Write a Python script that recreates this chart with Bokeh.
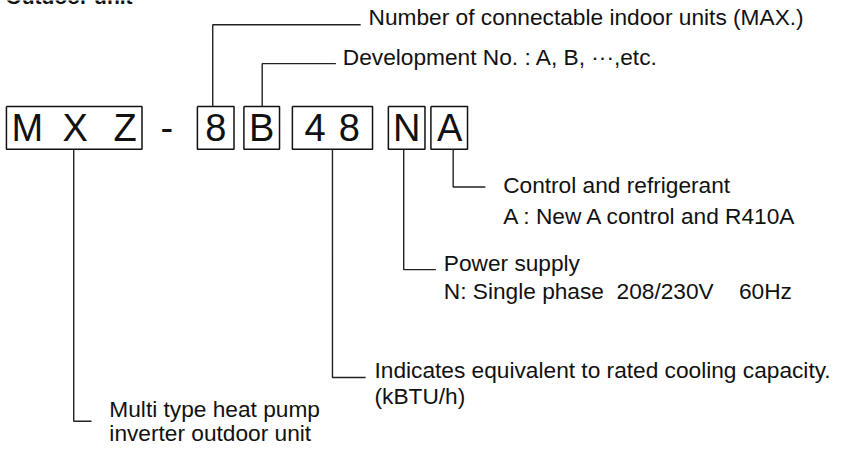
from bokeh.plotting import figure
from bokeh.models import Range1d
from bokeh.core.properties import value
from bokeh.embed import file_html
from bokeh.resources import INLINE

NB = "\u00a0"  # keeps the wide gaps of the original text

# ---- content ----
title_text = "Outdoor unit"
code_chars = ["M", "X", "Z", "-", "8", "B", "4", "8", "N", "A"]
descriptions = [
    ["Number of connectable indoor units (MAX.)"],
    ["Development No. : A, B, \u00b7\u00b7\u00b7,etc."],
    ["Control and refrigerant", "A : New A control and R410A"],
    ["Power supply", "N: Single phase" + NB * 2 + "208/230V" + NB * 4 + "60Hz"],
    ["Indicates equivalent to rated cooling capacity.", "(kBTU/h)"],
    ["Multi type heat pump", "inverter outdoor unit"],
]

# ---- layout (reference pixel coordinates of the drawing) ----
char_x = [27, 75.5, 126, 168, 217.5, 264, 318, 352.5, 410.5, 454]
char_mid = 131
box_left = [6, 199, 246, 295, 392, 435]
box_right = [143, 236, 282, 376, 429, 472]
box_top, box_bottom = 109, 153
lead_x = [214.5, 264.5, 457.5, 407.5, 335.5, 74]
lead_y0 = [box_top, box_top, box_bottom, box_bottom, box_bottom, box_bottom]
lead_turn = [25, 65, 192, 277, 388, 433]
lead_end = [364, 339, 490, 440, 369, 92]
text_x = [372, 346, 508, 448, 378, 110]
text_mid = [[17], [58], [190, 222], [270, 299], [380, 407], [420, 445]]

W, H = 844, 447
p = figure(width=W, height=H, output_backend="svg", toolbar_location=None,
           x_range=Range1d(0, 853), y_range=Range1d(460, 0),
           min_border=0, outline_line_color=None)
p.xaxis.visible = False
p.yaxis.visible = False
p.grid.visible = False
p.background_fill_color = "white"
p.border_fill_color = "white"

FONT = value("Liberation Sans")
INK = "#111111"

p.text(x=[5], y=[-4], text=[title_text], text_font=FONT, text_font_size="21px",
       text_font_style="bold", text_baseline="middle", text_color=INK)

bxs = [[l, r, r, l, l] for l, r in zip(box_left, box_right)]
bys = [[box_top, box_top, box_bottom, box_bottom, box_top] for _ in box_left]
p.multi_line(xs=bxs, ys=bys, line_color="#111111", line_width=1.5)

p.text(x=char_x, y=[char_mid] * len(char_x), text=code_chars, text_font=FONT,
       text_font_size="38px", text_align="center", text_baseline="middle",
       text_color=INK)

xs = [[x, x, e] for x, e in zip(lead_x, lead_end)]
ys = [[y0, t, t] for y0, t in zip(lead_y0, lead_turn)]
p.multi_line(xs=xs, ys=ys, line_color="#222222", line_width=1.4)

tx, ty, tt = [], [], []
for lines, x0, mids in zip(descriptions, text_x, text_mid):
    for line, m in zip(lines, mids):
        tx.append(x0)
        ty.append(m)
        tt.append(line)
p.text(x=tx, y=ty, text=tt, text_font=FONT, text_font_size="22.7px",
       text_baseline="middle", text_color=INK)

open("out.html", "w").write(file_html(p, INLINE))
